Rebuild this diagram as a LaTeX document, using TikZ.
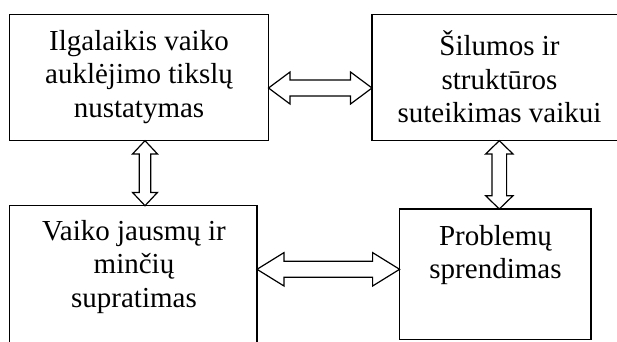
\documentclass[tikz,border=0pt]{standalone}
\usepackage{fontspec}
\setmainfont{Liberation Serif}
\usetikzlibrary{calc}
\tikzset{
  box/.style={draw, line width=1.5pt, inner sep=0pt, outer sep=0pt},
  txt/.style={align=center, inner sep=0pt, font=\fontsize{29}{33.5}\selectfont},
  arr/.style={draw, line width=1.2pt, line join=miter, fill=white}
}
% horizontal double arrow: #1 left tip, #2 right tip, #3 head half width, #4 shaft half width, #5 head length
\newcommand\myhdarrow[5]{%
  \draw[arr] (#1) -- ($(#1)+(#5,-#3)$) -- ($(#1)+(#5,-#4)$) -- ($(#2)+(-#5,-#4)$) -- ($(#2)+(-#5,-#3)$)
    -- (#2) -- ($(#2)+(-#5,#3)$) -- ($(#2)+(-#5,#4)$) -- ($(#1)+(#5,#4)$) -- ($(#1)+(#5,#3)$) -- cycle;}
% vertical double arrow: #1 top tip, #2 bottom tip (y grows downward)
\newcommand\myvdarrow[5]{%
  \draw[arr] (#1) -- ($(#1)+(-#3,#5)$) -- ($(#1)+(-#4,#5)$) -- ($(#2)+(-#4,-#5)$) -- ($(#2)+(-#3,-#5)$)
    -- (#2) -- ($(#2)+(#3,-#5)$) -- ($(#2)+(#4,-#5)$) -- ($(#1)+(#4,#5)$) -- ($(#1)+(#3,#5)$) -- cycle;}
\begin{document}
\begin{tikzpicture}[x=1pt,y=-1pt]
\useasboundingbox (0,0) rectangle (617,341);
\clip (0,0) rectangle (617,341);
% boxes
\node[box, minimum width=259pt, minimum height=126.4pt] (A) at (139,77.5) {};
\node[box, minimum width=258pt, minimum height=126.4pt] (B) at (501,77.5) {};
\node[box, minimum width=247.5pt, minimum height=160pt] (C) at (133.25,285.7) {};
\node[box, minimum width=191.4pt, minimum height=130.3pt] (D) at (495.3,274.15) {};
% texts
\node[txt] (tA) at (139,77) {Ilgalaikis vaiko\\auklėjimo tikslų\\nustatymas};
\node[txt] (tB) at (499.5,77) {Šilumos ir\\struktūros\\suteikimas vaikui};
\node[txt] (tC) at (134,267) {Vaiko jausmų ir\\minčių\\supratimas};
\node[txt] (tD) at (495.5,255) {Problemų\\sprendimas};
% arrow end points on the boxes
\coordinate (abL) at ($(A.east)+(0,10.5)$);
\coordinate (abR) at ($(B.west)+(0,10.5)$);
\coordinate (cdL) at ($(C.east)+(0,-16.4)$);
\coordinate (cdR) at ($(D.west)+(0,-4.85)$);
\coordinate (acT) at ($(A.south)+(6,0)$);
\coordinate (acB) at ($(C.north)+(11.75,0)$);
\coordinate (bdT) at ($(B.south)+(-1.7,0)$);
\coordinate (bdB) at ($(D.north)+(4,0)$);
% double arrows
\myhdarrow{abL}{abR}{16}{8}{21.5}
\myhdarrow{cdL}{cdR}{16.7}{8}{27}
\myvdarrow{acT}{acB}{12.5}{5.7}{13.3}
\myvdarrow{bdT}{bdB}{13.7}{7.3}{13.3}
\end{tikzpicture}
\end{document}
